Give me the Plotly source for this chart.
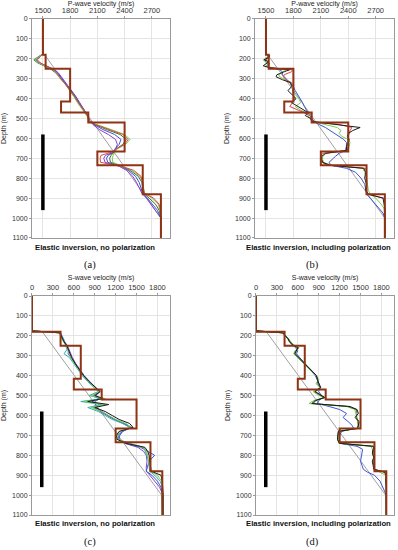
import plotly.graph_objects as go

# ---------------- data ----------------
P_TICKS = [1500, 1800, 2100, 2400, 2700]
S_TICKS = [0, 300, 600, 900, 1200, 1500, 1800]
DEPTH_TICKS = [0, 100, 200, 300, 400, 500, 600, 700, 800, 900, 1000, 1100]

# true layered model (layer tops, velocity of each layer)
LAYER_TOPS = [0, 180, 250, 415, 470, 520, 665, 735, 880, 1100]
VP_TRUE = [1500, 1530, 1800, 1700, 2000, 2400, 2100, 2600, 2800, 2800]
VS_TRUE = [0, 410, 700, 600, 1000, 1500, 1200, 1700, 1870, 1870]

# initial (gradient) model
INIT_DEPTH = [0, 180, 180, 1000, 1100]
VP_INIT = [1500, 1500, 1520, 2800, 2800]
VS_INIT = [0, 0, 150, 1860, 1870]

# receiver array bar
BAR_DEPTH = [580, 960]
BAR_VP = [1500, 1500]
BAR_VS = [140, 140]

# (a) P-wave, no polarization
DA = [0, 175, 190, 205, 220, 235, 250, 270, 300, 330, 360, 390, 420, 450, 470, 490, 510, 530, 555, 580,
      605, 630, 655, 670, 685, 700, 720, 740, 760, 790, 820, 850, 875, 900, 930, 960, 1000, 1100]
A_GREEN = [1500, 1500, 1460, 1410, 1450, 1530, 1590, 1650, 1690, 1750, 1800, 1840, 1880, 1930, 1960, 1990, 2010, 2090, 2250, 2400,
           2460, 2410, 2310, 2290, 2275, 2265, 2270, 2380, 2480, 2570, 2600, 2610, 2620, 2700, 2770, 2790, 2800, 2800]
A_OLIVE = [1500, 1500, 1450, 1400, 1440, 1520, 1580, 1640, 1700, 1760, 1810, 1850, 1890, 1935, 1965, 1990, 2005, 2070, 2200, 2350,
           2420, 2380, 2300, 2285, 2250, 2235, 2245, 2370, 2460, 2550, 2590, 2600, 2610, 2670, 2740, 2780, 2800, 2800]
A_BLUE = [1500, 1500, 1455, 1420, 1450, 1530, 1600, 1660, 1710, 1770, 1820, 1860, 1900, 1945, 1975, 2000, 2010, 2060, 2160, 2290,
          2360, 2340, 2290, 2280, 2220, 2200, 2215, 2360, 2440, 2520, 2560, 2580, 2600, 2650, 2700, 2760, 2800, 2800]
A_PURPLE = [1500, 1500, 1460, 1430, 1460, 1540, 1610, 1670, 1720, 1775, 1825, 1865, 1905, 1950, 1980, 2000, 2015, 2050, 2120, 2220,
            2300, 2320, 2300, 2280, 2190, 2170, 2185, 2340, 2420, 2490, 2530, 2560, 2590, 2640, 2690, 2740, 2800, 2800]
A_RED = [1500, 1500, 1470, 1440, 1470, 1540, 1600, 1650, 1700, 1760, 1810, 1850, 1890, 1940, 1970, 1995, 2010, 2080, 2230, 2380,
         2440, 2400, 2300, 2250, 2140, 2130, 2135, 2360, 2500, 2580, 2600, 2605, 2620, 2720, 2780, 2795, 2800, 2800]

# (b) P-wave, including polarization
DB = [0, 175, 185, 195, 205, 215, 225, 235, 245, 255, 265, 280, 290, 305, 320, 340, 360, 380, 400, 420,
      440, 455, 470, 485, 500, 515, 530, 545, 560, 575, 590, 605, 620, 640, 660, 675, 690, 705, 720, 735,
      750, 770, 800, 830, 860, 880, 900, 925, 950, 975, 1000, 1100]
B_BLACK = [1500, 1500, 1540, 1520, 1480, 1530, 1500, 1470, 1540, 1760, 1700, 1620, 1610, 1680, 1770, 1780, 1740, 1790, 1830, 1780,
           1850, 1910, 1960, 1930, 1990, 2000, 2250, 2530, 2450, 2400, 2390, 2410, 2400, 2380, 2380, 2150, 2110, 2110, 2120, 2200,
           2570, 2590, 2580, 2600, 2590, 2620, 2780, 2790, 2800, 2800, 2800, 2800]
B_GREEN = [1500, 1500, 1530, 1500, 1470, 1490, 1530, 1500, 1560, 1720, 1690, 1640, 1650, 1700, 1760, 1790, 1800, 1820, 1860, 1880,
           1820, 1870, 1930, 1960, 1980, 2010, 2150, 2280, 2320, 2300, 2330, 2400, 2420, 2410, 2390, 2160, 2120, 2120, 2130, 2220,
           2560, 2580, 2600, 2610, 2620, 2640, 2700, 2750, 2790, 2800, 2800, 2800]
B_BLUE = [1500, 1500, 1520, 1510, 1490, 1500, 1520, 1510, 1540, 1650, 1680, 1680, 1700, 1730, 1760, 1800, 1820, 1850, 1880, 1900,
          1920, 1940, 1960, 1980, 2000, 2030, 2080, 2150, 2200, 2260, 2300, 2350, 2380, 2380, 2370, 2300, 2260, 2230, 2190, 2210,
          2380, 2480, 2540, 2580, 2590, 2600, 2640, 2690, 2740, 2780, 2800, 2800]
B_RED = [1500, 1500, 1540, 1530, 1500, 1520, 1540, 1520, 1550, 1790, 1780, 1700, 1690, 1720, 1780, 1800, 1790, 1800, 1810, 1790,
         1760, 1840, 1920, 1980, 2000, 2010, 2300, 2440, 2420, 2410, 2400, 2400, 2400, 2400, 2390, 2120, 2100, 2100, 2110, 2180,
         2590, 2600, 2600, 2600, 2600, 2610, 2790, 2800, 2800, 2800, 2800, 2800]

# (c) S-wave, no polarization
DC = [0, 175, 185, 200, 215, 230, 250, 270, 290, 310, 340, 370, 400, 430, 460, 480, 500, 515, 530, 545,
      560, 580, 600, 620, 640, 660, 680, 700, 720, 740, 760, 780, 800, 830, 860, 880, 900, 930, 960, 1000, 1100]
C_BLACK = [0, 0, 400, 420, 440, 460, 500, 520, 540, 570, 620, 680, 740, 820, 920, 980, 900, 1020, 800, 1100,
           900, 1050, 1150, 1250, 1400, 1450, 1250, 1210, 1220, 1350, 1620, 1660, 1680, 1690, 1700, 1710, 1850, 1870, 1875, 1880, 1880]
C_GREEN = [0, 0, 390, 410, 430, 450, 490, 510, 530, 560, 610, 670, 730, 810, 900, 960, 850, 1050, 750, 1050,
           850, 1000, 1100, 1200, 1350, 1420, 1260, 1220, 1230, 1380, 1600, 1640, 1660, 1680, 1690, 1700, 1800, 1860, 1875, 1880, 1880]
C_TEAL = [0, 0, 400, 430, 450, 470, 480, 500, 460, 540, 600, 660, 720, 800, 890, 950, 820, 1000, 700, 1000,
          800, 950, 1050, 1150, 1300, 1400, 1280, 1230, 1240, 1400, 1600, 1630, 1650, 1670, 1680, 1690, 1760, 1840, 1870, 1880, 1880]
C_BLUE = [0, 0, 400, 420, 440, 460, 500, 520, 520, 560, 620, 680, 740, 820, 910, 960, 880, 960, 860, 920,
          880, 980, 1080, 1180, 1320, 1430, 1300, 1250, 1240, 1340, 1560, 1650, 1760, 1680, 1650, 1640, 1720, 1800, 1850, 1880, 1880]
C_PURPLE = [0, 0, 410, 430, 450, 470, 510, 530, 550, 580, 630, 690, 750, 830, 920, 970, 920, 980, 900, 960,
            920, 1000, 1090, 1190, 1310, 1420, 1300, 1260, 1250, 1330, 1520, 1600, 1640, 1650, 1640, 1640, 1690, 1760, 1830, 1880, 1880]

# (d) S-wave, including polarization
DD = [0, 175, 185, 200, 215, 230, 245, 260, 275, 290, 310, 340, 370, 400, 420, 440, 460, 480, 495, 510,
      525, 540, 555, 570, 590, 610, 630, 650, 665, 680, 700, 720, 740, 755, 770, 790, 810, 830, 850, 870,
      885, 900, 930, 960, 1000, 1100]
D_BLACK = [0, 0, 380, 420, 460, 480, 520, 600, 580, 560, 620, 700, 790, 870, 880, 900, 930, 850, 920, 990,
           850, 800, 1350, 1450, 1470, 1420, 1480, 1470, 1460, 1180, 1170, 1170, 1200, 1700, 1680, 1670, 1690, 1670, 1680, 1690,
           1850, 1870, 1860, 1870, 1870, 1870]
D_GREEN = [0, 0, 390, 430, 470, 500, 540, 620, 560, 540, 600, 690, 780, 860, 900, 860, 920, 820, 880, 970,
           830, 760, 1300, 1420, 1430, 1450, 1470, 1460, 1450, 1190, 1180, 1170, 1190, 1650, 1670, 1680, 1680, 1690, 1700, 1700,
           1780, 1860, 1870, 1870, 1870, 1870]
D_BLUE = [0, 0, 390, 420, 450, 480, 520, 570, 600, 580, 630, 700, 780, 850, 880, 900, 920, 900, 930, 960,
          900, 880, 1050, 1200, 1300, 1250, 1320, 1380, 1400, 1230, 1200, 1190, 1210, 1450, 1530, 1520, 1500, 1500, 1520, 1540,
          1600, 1700, 1780, 1820, 1870, 1870]
D_OLIVE = [0, 0, 385, 425, 465, 490, 530, 610, 570, 550, 610, 700, 785, 865, 890, 880, 925, 840, 900, 980,
           860, 820, 1320, 1440, 1450, 1440, 1460, 1470, 1455, 1185, 1175, 1170, 1195, 1680, 1690, 1680, 1690, 1680, 1690, 1695,
           1840, 1865, 1870, 1870, 1870, 1870]

# ---------------- styling ----------------
FONT = "Liberation Sans, Arial, sans-serif"
C_TRUE = "#8e3314"
C_INIT = "#a0a0a0"
COL = {"green": "#7ccd52", "olive": "#3f6f2c", "blue": "#3b55d6", "purple": "#8a3fd0",
       "red": "#e0474c", "black": "#1a1a1a", "teal": "#33b3a6"}

fig = go.Figure()

panels = [
    ("", [0.0804, 0.4271], [0.5673, 0.9655], [1380, 2900], P_TICKS, VP_TRUE, VP_INIT, BAR_VP,
     DA, [(A_PURPLE, "purple"), (A_BLUE, "blue"), (A_OLIVE, "olive"), (A_GREEN, "green"), (A_RED, "red")],
     "P-wave velocity (m/s)"),
    ("2", [0.6407, 0.9899], [0.5673, 0.9655], [1380, 2900], P_TICKS, VP_TRUE, VP_INIT, BAR_VP,
     DB, [(B_BLUE, "blue"), (B_GREEN, "green"), (B_RED, "red"), (B_BLACK, "black")],
     "P-wave velocity (m/s)"),
    ("3", [0.0804, 0.4271], [0.0636, 0.4618], [0, 1980], S_TICKS, VS_TRUE, VS_INIT, BAR_VS,
     DC, [(C_PURPLE, "purple"), (C_BLUE, "blue"), (C_TEAL, "teal"), (C_GREEN, "green"), (C_BLACK, "black")],
     "S-wave velocity (m/s)"),
    ("4", [0.6432, 0.9899], [0.0636, 0.4618], [0, 1980], S_TICKS, VS_TRUE, VS_INIT, BAR_VS,
     DD, [(D_BLUE, "blue"), (D_GREEN, "green"), (D_OLIVE, "olive"), (D_BLACK, "black")],
     "S-wave velocity (m/s)"),
]

axis_common = dict(showline=True, linecolor="#9a9a9a", linewidth=1, mirror=True,
                   showgrid=True, gridcolor="#e4e4e4", gridwidth=1, zeroline=False,
                   ticks="outside", ticklen=2, tickcolor="#9a9a9a", automargin=False)

for suf, xd, yd, xr, ticks, vtrue, vinit, bar, depth, curves, xtitle in panels:
    xa = "x" + suf
    ya = "y" + suf
    fig.add_trace(go.Scatter(x=vinit, y=INIT_DEPTH, mode="lines", xaxis=xa, yaxis=ya,
                             line=dict(color=C_INIT, width=1), showlegend=False, hoverinfo="skip"))
    for vals, cname in curves:
        fig.add_trace(go.Scatter(x=vals, y=depth, mode="lines", xaxis=xa, yaxis=ya,
                                 line=dict(color=COL[cname], width=1), showlegend=False))
    fig.add_trace(go.Scatter(x=vtrue, y=LAYER_TOPS, mode="lines", xaxis=xa, yaxis=ya,
                             line=dict(color=C_TRUE, width=2, shape="vh"), showlegend=False))
    fig.add_trace(go.Scatter(x=bar, y=BAR_DEPTH, mode="lines", xaxis=xa, yaxis=ya,
                             line=dict(color="#000000", width=3.5), showlegend=False))

    fig.layout["xaxis" + suf] = dict(axis_common, domain=xd, range=xr, anchor=ya, side="top",
                                     tickvals=ticks, ticktext=[str(t) for t in ticks],
                                     tickfont=dict(family=FONT, size=7.5, color="#333333"),
                                     title=dict(text=xtitle, standoff=1,
                                                font=dict(family=FONT, size=7, color="#222")))
    fig.layout["yaxis" + suf] = dict(axis_common, domain=yd, range=[1100, 0], anchor=xa,
                                     tickvals=DEPTH_TICKS, ticktext=[str(t) for t in DEPTH_TICKS],
                                     tickfont=dict(family=FONT, size=7, color="#333333"),
                                     title=dict(text="Depth (m)", standoff=4,
                                                font=dict(family=FONT, size=7, color="#222")))

captions = [
    (95 / 398, 1 - 247 / 550, "Elastic inversion, no polarization", "(a)", 90 / 398, 1 - 265 / 550),
    (318 / 398, 1 - 247 / 550, "Elastic inversion, including polarization", "(b)", 312 / 398, 1 - 265 / 550),
    (95 / 398, 1 - 523 / 550, "Elastic inversion, no polarization", "(c)", 90 / 398, 1 - 542 / 550),
    (318 / 398, 1 - 523 / 550, "Elastic inversion, including polarization", "(d)", 312 / 398, 1 - 542 / 550),
]
ann = []
for tx, ty, t, lab, lx, ly in captions:
    ann.append(dict(x=tx, y=ty, xref="paper", yref="paper", text="<b>" + t + "</b>", showarrow=False,
                    font=dict(family=FONT, size=7.7, color="#111"), xanchor="center", yanchor="middle"))
    ann.append(dict(x=lx, y=ly, xref="paper", yref="paper", text=lab, showarrow=False,
                    font=dict(family="Liberation Serif, Times New Roman, serif", size=10.5, color="#111"),
                    xanchor="center", yanchor="middle"))

fig.update_layout(width=398, height=550, margin=dict(l=0, r=0, t=0, b=0, autoexpand=False),
                  paper_bgcolor="white", plot_bgcolor="white", annotations=ann,
                  font=dict(family=FONT))

fig.write_html("out.html", config={"displayModeBar": False},
               post_script="document.body.style.margin='0';document.body.style.overflow='hidden';")
